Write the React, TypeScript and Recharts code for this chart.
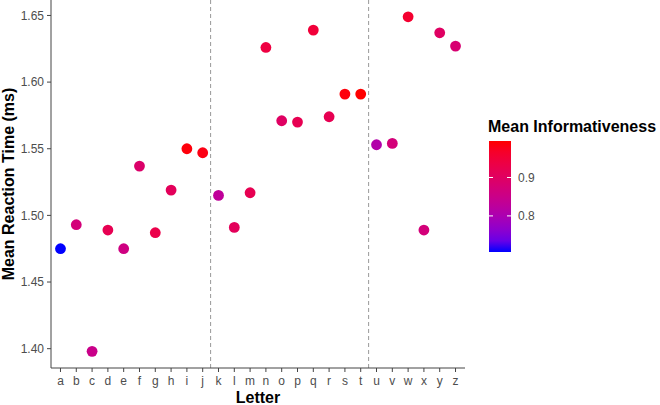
import React from 'react';
import { ScatterChart, Scatter, XAxis, YAxis, ReferenceLine } from 'recharts';

const letters = ['a', 'b', 'c', 'd', 'e', 'f', 'g', 'h', 'i', 'j', 'k', 'l', 'm', 'n', 'o', 'p', 'q', 'r', 's', 't', 'u', 'v', 'w', 'x', 'y', 'z'];
const reactionTime = [
  1.475, 1.493, 1.398, 1.489, 1.475, 1.537, 1.487, 1.519, 1.550, 1.547,
  1.515, 1.491, 1.517, 1.626, 1.571, 1.570, 1.639, 1.574, 1.591, 1.591,
  1.553, 1.554, 1.649, 1.489, 1.637, 1.627,
];
const informativeness = [
  0.706, 0.87, 0.85, 0.92, 0.86, 0.89, 0.93, 0.91, 0.99, 0.985,
  0.83, 0.91, 0.92, 0.94, 0.90, 0.92, 0.95, 0.92, 0.99, 0.995,
  0.81, 0.87, 0.96, 0.87, 0.90, 0.88,
];
const yTicks = [1.40, 1.45, 1.50, 1.55, 1.60, 1.65];
const legendTicks = [0.8, 0.9];
// boundaries drawn between j|k and t|u
const groupBreaks = [10.5, 20.5];

const data = letters.map((l, i) => ({ x: i + 1, letter: l, rt: reactionTime[i], info: informativeness[i] }));

// blue -> red gradient, interpolated in CIE Lab like ggplot's scale_colour_gradient
const toLin = (c: number) => (c <= 0.04045 ? c / 12.92 : Math.pow((c + 0.055) / 1.055, 2.4));
const fromLin = (c: number) => (c <= 0.0031308 ? 12.92 * c : 1.055 * Math.pow(c, 1 / 2.4) - 0.055);
const Xn = 0.95047, Yn = 1.0, Zn = 1.08883;
const f = (t: number) => (t > 216 / 24389 ? Math.cbrt(t) : (24389 / 27 * t + 16) / 116);
const finv = (t: number) => (t * t * t > 216 / 24389 ? t * t * t : (116 * t - 16) / (24389 / 27));

function rgbToLab([r, g, b]: number[]) {
  const R = toLin(r / 255), G = toLin(g / 255), B = toLin(b / 255);
  const X = 0.4124564 * R + 0.3575761 * G + 0.1804375 * B;
  const Y = 0.2126729 * R + 0.7151522 * G + 0.072175 * B;
  const Z = 0.0193339 * R + 0.119192 * G + 0.9503041 * B;
  const fx = f(X / Xn), fy = f(Y / Yn), fz = f(Z / Zn);
  return [116 * fy - 16, 500 * (fx - fy), 200 * (fy - fz)];
}

function labToHex([L, a, b]: number[]) {
  const fy = (L + 16) / 116, fx = fy + a / 500, fz = fy - b / 200;
  const X = Xn * finv(fx), Y = Yn * finv(fy), Z = Zn * finv(fz);
  const R = 3.2404542 * X - 1.5371385 * Y - 0.4985314 * Z;
  const G = -0.969266 * X + 1.8760108 * Y + 0.041556 * Z;
  const B = 0.0556434 * X - 0.2040259 * Y + 1.0572252 * Z;
  const h = (v: number) => Math.round(Math.min(1, Math.max(0, fromLin(v))) * 255).toString(16).padStart(2, '0');
  return '#' + h(R) + h(G) + h(B);
}

const lowLab = rgbToLab([0, 0, 255]);
const highLab = rgbToLab([255, 0, 0]);
const infoMin = Math.min(...informativeness);
const infoMax = Math.max(...informativeness);

function colourAt(t: number) {
  return labToHex(lowLab.map((v, i) => v + (highLab[i] - v) * t));
}
const colourFor = (v: number) => colourAt((v - infoMin) / (infoMax - infoMin));

const font = '"Liberation Sans", Arial, sans-serif';
const tickStyle = { fill: '#4d4d4d', fontSize: 12, fontFamily: font };

const Dot = (props: any) => {
  const { cx, cy, payload } = props;
  return <circle cx={cx} cy={cy} r={5.4} fill={colourFor(payload.info)} />;
};

// colour bar geometry
const barX = 489, barW = 22, barTop = 141, barBottom = 252;
const barY = (v: number) => barBottom - ((v - infoMin) / (infoMax - infoMin)) * (barBottom - barTop);

export default function App() {
  const stops = Array.from({ length: 11 }, (_, i) => i / 10);
  return (
    <div style={{ position: 'fixed', left: 0, top: 0, width: 660, height: 405, background: '#fff', fontFamily: font }}>
      <ScatterChart width={660} height={405} margin={{ top: 0, right: 195, bottom: 0, left: 0 }}>
        <XAxis
          type="number"
          dataKey="x"
          domain={[0.4, 26.6]}
          ticks={letters.map((_, i) => i + 1)}
          interval={0}
          tickFormatter={(v) => letters[v - 1]}
          height={37}
          tickSize={4}
          tickMargin={4}
          stroke="#444"
          tick={tickStyle}
        />
        <YAxis
          type="number"
          dataKey="rt"
          domain={[1.3855, 1.6616]}
          ticks={yTicks}
          tickFormatter={(v) => v.toFixed(2)}
          width={51}
          tickSize={4}
          tickMargin={3}
          stroke="#444"
          tick={tickStyle}
          allowDataOverflow
        />
        {groupBreaks.map((b) => (
          <ReferenceLine key={b} x={b} stroke="#999" strokeDasharray="4 3" />
        ))}
        <Scatter data={data} shape={Dot} isAnimationActive={false} />
      </ScatterChart>
      <svg width={660} height={405} style={{ position: 'absolute', left: 0, top: 0, pointerEvents: 'none' }}>
        <text x={258} y={403} textAnchor="middle" fontWeight="bold" fontSize={16} fill="#000">Letter</text>
        <text
          x={0}
          y={0}
          transform="translate(14,184) rotate(-90)"
          textAnchor="middle"
          fontWeight="bold"
          fontSize={16}
          fill="#000"
        >
          Mean Reaction Time (ms)
        </text>
        <text x={488} y={132} fontWeight="bold" fontSize={16} fill="#000">Mean Informativeness</text>
        <defs>
          <linearGradient id="infoBar" x1="0" y1="1" x2="0" y2="0">
            {stops.map((s) => (
              <stop key={s} offset={s} stopColor={colourAt(s)} />
            ))}
          </linearGradient>
        </defs>
        <rect x={barX} y={barTop} width={barW} height={barBottom - barTop} fill="url(#infoBar)" />
        {legendTicks.map((t) => (
          <g key={t}>
            <line x1={barX} x2={barX + 4} y1={barY(t)} y2={barY(t)} stroke="#fff" />
            <line x1={barX + barW - 4} x2={barX + barW} y1={barY(t)} y2={barY(t)} stroke="#fff" />
            <text x={518} y={barY(t) + 4.3} fontSize={12} fill="#4d4d4d">{t.toFixed(1)}</text>
          </g>
        ))}
      </svg>
    </div>
  );
}
